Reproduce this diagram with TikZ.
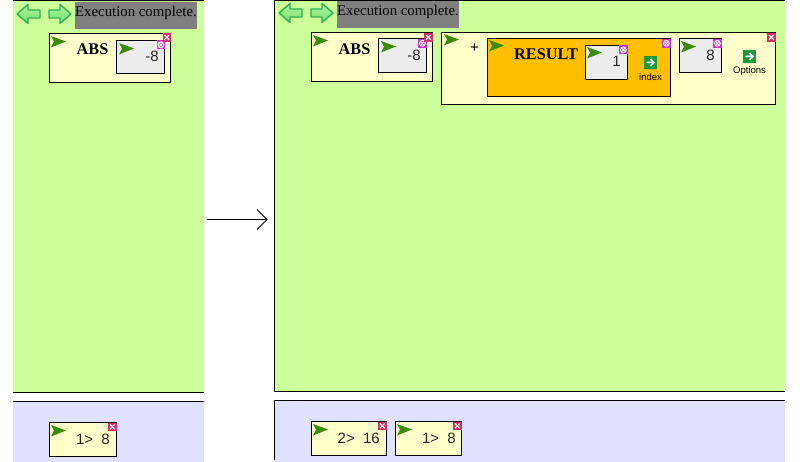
\documentclass[tikz,border=0pt]{standalone}
\usepackage{fontspec}
\setmainfont{Liberation Serif}
\setsansfont{Liberation Sans}
\definecolor{panelgreen}{HTML}{CCFF99}
\definecolor{lav}{HTML}{E0E0FF}
\definecolor{cream}{HTML}{FFFFCC}
\definecolor{orangebox}{HTML}{FFBF00}
\definecolor{innergray}{HTML}{EDEDED}
\definecolor{statusgray}{HTML}{808080}
\definecolor{closered}{HTML}{CC3366}
\definecolor{closepurple}{HTML}{CC33CC}
\definecolor{flaggreen}{HTML}{3A8C0A}
\definecolor{navtop}{HTML}{B4F8A0}
\definecolor{navbot}{HTML}{70E070}
\definecolor{navedge}{HTML}{30B050}
\definecolor{icongreen}{HTML}{1E9A3C}
\tikzset{
  x=1pt,y=-1pt,
  blk/.style={draw=black,line width=1pt},
  valtext/.style={font=\sffamily\fontsize{15}{15}\selectfont,anchor=base east,inner sep=0pt,text=black!85},
  boldtext/.style={font=\bfseries\fontsize{16.3}{17}\selectfont,inner sep=0pt,anchor=base},
  smalltext/.style={font=\sffamily\fontsize{9.5}{10}\selectfont,inner sep=0pt,anchor=base},
  statustext/.style={font=\fontsize{14.8}{15}\selectfont,inner sep=0pt,anchor=base west},
  navarrow/.style={draw=navedge,top color=navtop,bottom color=navbot,line width=1.4pt,line join=round},
}
% flag at top-left corner (x,y)
\newcommand{\flag}[2]{\fill[flaggreen,shift={(#1,#2)}] (0,0) -- (15,5.5) -- (0,11.5) -- (3,5.5) -- cycle;}
% purple close icon, top-left
\newcommand{\pclose}[2]{\begin{scope}[shift={(#1,#2)}]
 \fill[closepurple] (0,0) rectangle (8.7,8.7);
 \draw[white,line width=1pt] (4.35,4.35) circle (2.9);
 \draw[white,line width=.8pt] (2.4,2.4) -- (6.3,6.3) (2.4,6.3) -- (6.3,2.4);
 \end{scope}}
% red close icon
\newcommand{\rclose}[2]{\begin{scope}[shift={(#1,#2)}]
 \fill[closered] (0,0) rectangle (8.7,8.7);
 \draw[white,line width=1.1pt] (2,2) -- (6.7,6.7) (2,6.7) -- (6.7,2);
 \end{scope}}
% green go icon
\newcommand{\goicon}[2]{\begin{scope}[shift={(#1,#2)}]
 \fill[icongreen] (0,0) rectangle (13,13);
 \draw[white,line width=1.5pt] (2.5,6.5) -- (9.5,6.5) (6.5,3) -- (10,6.5) -- (6.5,10);
 \end{scope}}
\newcommand{\navleft}[2]{\begin{scope}[shift={(#1,#2)}]
 \path[navarrow] (0,10) -- (11,0.5) -- (11,6) -- (23,6) -- (23,14) -- (11,14) -- (11,19.5) -- cycle;
 \end{scope}}
\newcommand{\navright}[2]{\begin{scope}[shift={(#1,#2)}]
 \path[navarrow] (22,10) -- (11,0.5) -- (11,6) -- (0,6) -- (0,14) -- (11,14) -- (11,19.5) -- cycle;
 \end{scope}}
\begin{document}
\begin{tikzpicture}
\useasboundingbox (0,0) rectangle (800,462);
\fill[white] (0,0) rectangle (800,462);
% left panel
\fill[panelgreen] (13,1) rectangle (204,392);
\fill[lav] (13,401) rectangle (204,462);
\draw[blk] (13,1) -- (204,1);
\draw[blk] (13,392) -- (204,392);
\draw[blk] (13,401) -- (204,401);
% right panel
\fill[panelgreen] (274,0) rectangle (785,391);
\fill[lav] (274,400) rectangle (785,462);
\draw[blk] (785,0.5) -- (274.5,0.5) -- (274.5,391) -- (785,391);
\draw[blk] (785,400.5) -- (274.5,400.5) -- (274.5,460);
% status left
\fill[statusgray] (75,2) rectangle (197,29);
\navleft{17}{4}\navright{49}{4}
\node[statustext] (st1) at (75,17) {Execution complete.};
% status right
\fill[statusgray] (337,1) rectangle (459,28);
\navleft{279}{3}\navright{311}{3}
\node[statustext] (st2) at (337,16) {Execution complete.};
% ABS left
\draw[blk,fill=cream] (49.5,33.5) rectangle (170.5,82.5);
\flag{51}{36}
\node[boldtext] (abs1) at (92.5,55) {ABS};
\draw[blk,fill=innergray] (116.5,40.5) rectangle (164.5,73.5);
\flag{119}{43}
\node[valtext] (v1) at (159,61.5) {-8};
\pclose{156.5}{40.5}\rclose{162.5}{33}
% ABS right
\draw[blk,fill=cream] (311.5,32.5) rectangle (432.5,81.5);
\flag{313}{35}
\node[boldtext] (abs2) at (354.5,54.5) {ABS};
\draw[blk,fill=innergray] (378.5,38.5) rectangle (426.5,72.5);
\flag{381}{41}
\node[valtext] (v2) at (421,60.5) {-8};
\pclose{418}{39}\rclose{424}{33}
% plus box
\draw[blk,fill=cream] (441.5,32.5) rectangle (775.5,104.5);
\flag{444}{34}
\node[font=\sffamily\fontsize{15}{15}\selectfont,inner sep=0pt] (plus) at (474.5,48) {+};
\draw[blk,fill=orangebox] (487.5,38.5) rectangle (670.5,96.5);
\flag{489}{40}
\node[boldtext] (res) at (546,60) {RESULT};
\draw[blk,fill=innergray] (585.5,45.5) rectangle (627.5,79.5);
\flag{587}{47}
\node[valtext] (v3) at (621,66.5) {1};
\pclose{619}{45.5}
\goicon{644}{56}
\node[smalltext] (idx) at (650.5,81) {index};
\pclose{662}{39}
\draw[blk,fill=innergray] (679.5,38.5) rectangle (721.5,72.5);
\flag{681}{41}
\node[valtext] (v4) at (715,60.5) {8};
\pclose{713}{39}
\goicon{743}{50}
\node[smalltext] (opt) at (749.5,74) {Options};
\rclose{767}{33}
% bottom left
\draw[blk,fill=cream] (49.5,422.5) rectangle (116.5,456.5);
\flag{51}{425}
\node[valtext] (h1) at (110,444) {1>\ \ 8};
\rclose{108}{422.5}
% bottom right
\draw[blk,fill=cream] (311.5,421.5) rectangle (386.5,455.5);
\flag{313}{424}
\node[valtext] (h2) at (380,443) {2>\ \ 16};
\rclose{378}{421.5}
\draw[blk,fill=cream] (395.5,421.5) rectangle (461.5,455.5);
\flag{397}{424}
\node[valtext] (h3) at (456,443) {1>\ \ 8};
\rclose{453}{421.5}
% transition arrow
\coordinate (from) at (207,219.5);
\coordinate (to) at (267,219.5);
\coordinate (hu) at (257,209.5);
\coordinate (hd) at (257,229.5);
\draw[black,line width=.8pt] (from) -- (to);
\draw[black,line width=.8pt] (hu) -- (to) -- (hd);
\end{tikzpicture}
\end{document}
